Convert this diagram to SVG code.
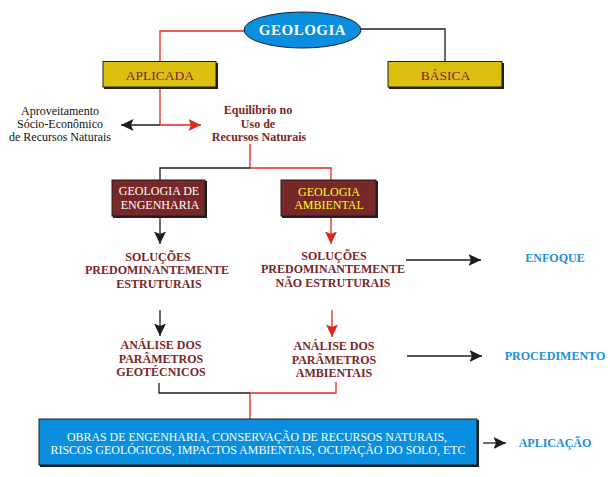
<svg xmlns="http://www.w3.org/2000/svg" width="610" height="477" viewBox="0 0 610 477">
<style>
.bg{fill:#ffffff}
.lk{stroke:#1e1e1e;stroke-width:1.3;fill:none}
.lr{stroke:#e0281a;stroke-width:1.3;fill:none}
.gold{fill:#dcc010;stroke:#1e1e1e;stroke-width:1}
.brown{fill:#782828;stroke:#1e1e1e;stroke-width:1}
.blue{fill:#0a8ee0;stroke:#1e1e1e;stroke-width:1}
.sh{fill:#1e1e1e}
.t{font-family:"Liberation Serif","Times New Roman",serif;font-size:12px;text-anchor:middle}
.b{font-weight:bold}
.dr{fill:#7a2626}
.wh{fill:#ffffff}
.ye{fill:#ffff20}
.bk{fill:#111111}
.bl{fill:#1a90e0}
</style>
<defs>
<marker id="ak" markerUnits="userSpaceOnUse" markerWidth="13" markerHeight="12" viewBox="0 0 13 12" refX="12.5" refY="6" orient="auto">
<path d="M0,0 L12.5,6 L0,12 L2.5,6 z" fill="#1e1e1e"/>
</marker>
<marker id="ar" markerUnits="userSpaceOnUse" markerWidth="13" markerHeight="12" viewBox="0 0 13 12" refX="12.5" refY="6" orient="auto">
<path d="M0,0 L12.5,6 L0,12 L2.5,6 z" fill="#e0281a"/>
</marker>
</defs>
<rect class="bg" x="0" y="0" width="610" height="477"/>

<g id="connectors">
<polyline class="lr" points="245,31 160,31 160,61"/>
<polyline class="lk" points="361,29 445,29 445,61"/>
<line class="lr" x1="160" y1="88" x2="160" y2="125"/>
<line class="lk" x1="160" y1="125" x2="121" y2="125" marker-end="url(#ak)"/>
<line class="lr" x1="160" y1="125" x2="201" y2="125" marker-end="url(#ar)"/>
<line class="lr" x1="250" y1="144" x2="250" y2="168"/>
<polyline class="lk" points="250,168 160,168 160,180"/>
<polyline class="lr" points="250,168 331,168 331,180"/>
<line class="lk" x1="160" y1="217" x2="160" y2="244" marker-end="url(#ak)"/>
<line class="lr" x1="331" y1="217" x2="331" y2="244" marker-end="url(#ar)"/>
<line class="lk" x1="160" y1="310" x2="160" y2="336" marker-end="url(#ak)"/>
<line class="lr" x1="332" y1="310" x2="332" y2="337" marker-end="url(#ar)"/>
<polyline class="lk" points="159,383 159,393 250,393"/>
<polyline class="lr" points="250,393 336,393 336,382"/>
<line class="lr" x1="250" y1="393" x2="250" y2="419"/>
<line class="lk" x1="406" y1="260" x2="481" y2="260" marker-end="url(#ak)"/>
<line class="lk" x1="407" y1="356" x2="482" y2="356" marker-end="url(#ak)"/>
<line class="lk" x1="483" y1="443" x2="506" y2="443" marker-end="url(#ak)"/>
</g>

<g id="geologia">
<ellipse class="blue" cx="302.5" cy="30" rx="58.5" ry="18"/>
<text class="t b wh" x="302.5" y="35" style="font-size:15px;letter-spacing:0.5px">GEOLOGIA</text>
</g>

<g id="aplicada">
<rect class="sh" x="104" y="63" width="114" height="26"/>
<rect class="gold" x="103" y="61.5" width="113" height="25.5"/>
<text class="t dr" x="160" y="80" style="font-size:13.5px">APLICADA</text>
</g>

<g id="basica">
<rect class="sh" x="389" y="63" width="115" height="26"/>
<rect class="gold" x="388" y="61.5" width="114" height="25.5"/>
<text class="t dr" x="445.5" y="80" style="font-size:13.5px">BÁSICA</text>
</g>

<g id="aproveitamento">
<text class="t bk" x="60" y="115">Aproveitamento</text>
<text class="t bk" x="60" y="128">Sócio-Econômico</text>
<text class="t bk" x="60" y="140.5">de Recursos Naturais</text>
</g>

<g id="equilibrio">
<text class="t b dr" x="258" y="114">Equilibrio no</text>
<text class="t b dr" x="258" y="127.5">Uso de</text>
<text class="t b dr" x="259" y="140.5">Recursos Naturais</text>
</g>

<g id="geo-engenharia">
<rect class="sh" x="113" y="181" width="94" height="37"/>
<rect class="brown" x="112" y="180" width="93" height="36"/>
<text class="t wh" x="159" y="195">GEOLOGIA DE</text>
<text class="t wh" x="160" y="208.5">ENGENHARIA</text>
</g>

<g id="geo-ambiental">
<rect class="sh" x="282" y="181" width="96" height="37"/>
<rect class="brown" x="281" y="180" width="95" height="36"/>
<text class="t ye" x="329" y="196">GEOLOGIA</text>
<text class="t ye" x="329" y="209">AMBIENTAL</text>
</g>

<g id="solucoes-estruturais">
<text class="t b dr" x="158" y="261">SOLUÇÕES</text>
<text class="t b dr" x="157" y="274">PREDOMINANTEMENTE</text>
<text class="t b dr" x="159" y="288">ESTRUTURAIS</text>
</g>

<g id="solucoes-nao-estruturais">
<text class="t b dr" x="334" y="260">SOLUÇÕES</text>
<text class="t b dr" x="333" y="273">PREDOMINANTEMENTE</text>
<text class="t b dr" x="333" y="286.5">NÃO ESTRUTURAIS</text>
</g>

<g id="enfoque">
<text class="t b bl" x="555" y="262">ENFOQUE</text>
</g>

<g id="analise-geotecnicos">
<text class="t b dr" x="161" y="349">ANÁLISE DOS</text>
<text class="t b dr" x="161" y="362.5">PARÂMETROS</text>
<text class="t b dr" x="161" y="376">GEOTÉCNICOS</text>
</g>

<g id="analise-ambientais">
<text class="t b dr" x="334" y="350">ANÁLISE DOS</text>
<text class="t b dr" x="334" y="363.5">PARÂMETROS</text>
<text class="t b dr" x="334" y="377">AMBIENTAIS</text>
</g>

<g id="procedimento">
<text class="t b bl" x="555" y="360">PROCEDIMENTO</text>
</g>

<g id="obras">
<rect class="sh" x="40" y="420" width="439" height="47"/>
<rect class="blue" x="39" y="419" width="438" height="46"/>
<text class="t wh" x="257" y="441" textLength="380" lengthAdjust="spacingAndGlyphs">OBRAS DE ENGENHARIA, CONSERVAÇÃO DE RECURSOS NATURAIS,</text>
<text class="t wh" x="258" y="454" textLength="415" lengthAdjust="spacingAndGlyphs">RISCOS GEOLÓGICOS, IMPACTOS AMBIENTAIS, OCUPAÇÃO DO SOLO, ETC</text>
</g>

<g id="aplicacao">
<text class="t b bl" x="555" y="447">APLICAÇÃO</text>
</g>
</svg>
